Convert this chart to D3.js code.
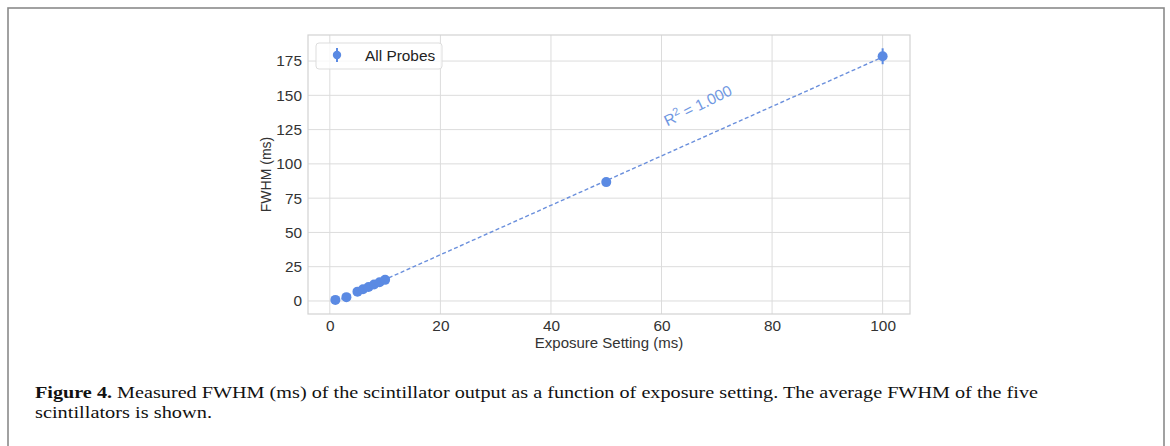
<!DOCTYPE html>
<html>
<head>
<meta charset="utf-8">
<script src="https://cdn.jsdelivr.net/npm/d3@7"></script>
<style>
  body { margin: 0; background: #fff; }
  svg { display: block; }
</style>
</head>
<body>
<svg id="chart" width="1170" height="446"></svg>
<script>
// exposure setting (ms) and averaged FWHM (ms) over the five probes
const exposure = [1, 3, 5, 6, 7, 8, 9, 10, 50, 100];
const fwhm = [0.8, 2.8, 6.8, 8.5, 10.2, 12.0, 13.6, 15.4, 86.7, 178.5];
const fwhmErr = [0.3, 0.3, 0.4, 0.4, 0.4, 0.5, 0.5, 0.5, 1.2, 5.8];
const xTicks = [0, 20, 40, 60, 80, 100];
const yTicks = [0, 25, 50, 75, 100, 125, 150, 175];
const xDomain = [-3.95, 104.95];
const yDomain = [-9.5, 194];
const legendLabel = "All Probes";
const fitLabel = "= 1.000";
const captionBold = "Figure 4.";
const captionLine1 = " Measured FWHM (ms) of the scintillator output as a function of exposure setting. The average FWHM of the five";
const captionLine2 = "scintillators is shown.";

const blue = "#5b8ae3";
const svg = d3.select("#chart");

// page frame
svg.append("rect")
    .attr("x", 8).attr("y", 8)
    .attr("width", 1156).attr("height", 460)
    .attr("fill", "none")
    .attr("stroke", "#8a8a8a")
    .attr("stroke-width", 1.6);

const plot = { left: 308, top: 35, right: 910, bottom: 314 };

let x = d3.scaleLinear().domain(xDomain).range([plot.left, plot.right]);
let y = d3.scaleLinear().domain(yDomain).range([plot.bottom, plot.top]);

let g = svg.append("g");

// grid
g.selectAll(".vgrid").data(xTicks).enter().append("line")
    .attr("x1", d => x(d)).attr("x2", d => x(d))
    .attr("y1", plot.top).attr("y2", plot.bottom)
    .attr("stroke", "#dcdcdc").attr("stroke-width", 1);
g.selectAll(".hgrid").data(yTicks).enter().append("line")
    .attr("y1", d => y(d)).attr("y2", d => y(d))
    .attr("x1", plot.left).attr("x2", plot.right)
    .attr("stroke", "#dcdcdc").attr("stroke-width", 1);

g.append("rect")
    .attr("x", plot.left).attr("y", plot.top)
    .attr("width", plot.right - plot.left).attr("height", plot.bottom - plot.top)
    .attr("fill", "none").attr("stroke", "#d2d2d2").attr("stroke-width", 1.2);

// axes (ticks hidden, labels only)
let xAxis = d3.axisBottom(x).tickValues(xTicks).tickSize(0).tickPadding(6);
let yAxis = d3.axisLeft(y).tickValues(yTicks).tickSize(0).tickPadding(6);

let gx = g.append("g").attr("transform", "translate(0," + plot.bottom + ")").call(xAxis);
let gy = g.append("g").attr("transform", "translate(" + plot.left + ",0)").call(yAxis);
[gx, gy].forEach(a => {
    a.select(".domain").remove();
    a.selectAll("text")
        .attr("font-family", "Liberation Sans, Arial, sans-serif")
        .attr("font-size", 15.4)
        .attr("fill", "#333");
});

g.append("text")
    .attr("x", (plot.left + plot.right) / 2).attr("y", 348)
    .attr("text-anchor", "middle")
    .attr("font-family", "Liberation Sans, Arial, sans-serif")
    .attr("font-size", 15)
    .attr("fill", "#333")
    .text("Exposure Setting (ms)");

g.append("text")
    .attr("transform", "translate(271," + ((plot.top + plot.bottom) / 2) + ") rotate(-90)")
    .attr("text-anchor", "middle")
    .attr("font-family", "Liberation Sans, Arial, sans-serif")
    .attr("font-size", 14)
    .attr("fill", "#333")
    .text("FWHM (ms)");

// least squares fit through the points
let mx = d3.mean(exposure), my = d3.mean(fwhm);
let sxy = d3.sum(exposure, (v, i) => (v - mx) * (fwhm[i] - my));
let sxx = d3.sum(exposure, v => (v - mx) * (v - mx));
let slope = sxy / sxx;
let icpt = my - slope * mx;
let xr = d3.extent(exposure);

g.append("line")
    .attr("x1", x(xr[0])).attr("y1", y(icpt + slope * xr[0]))
    .attr("x2", x(xr[1])).attr("y2", y(icpt + slope * xr[1]))
    .attr("stroke", "#6a8fdc")
    .attr("stroke-width", 1.4)
    .attr("stroke-dasharray", "4,2.5");

// error bars + points
let pts = exposure.map((v, i) => ({ x: v, y: fwhm[i], e: fwhmErr[i] }));
g.selectAll(".err").data(pts).enter().append("line")
    .attr("x1", d => x(d.x)).attr("x2", d => x(d.x))
    .attr("y1", d => y(d.y - d.e)).attr("y2", d => y(d.y + d.e))
    .attr("stroke", blue).attr("stroke-width", 2);
g.selectAll(".pt").data(pts).enter().append("circle")
    .attr("cx", d => x(d.x)).attr("cy", d => y(d.y))
    .attr("r", 5)
    .attr("fill", blue);

// R^2 annotation above the fit
let ax = 67, ay = 139;
let ang = -26;
let ann = g.append("text")
    .attr("transform", "translate(" + x(ax) + "," + y(ay) + ") rotate(" + ang + ")")
    .attr("text-anchor", "middle")
    .attr("font-family", "Liberation Sans, Arial, sans-serif")
    .attr("font-size", 15.4)
    .attr("fill", "#6f97e2");
ann.append("tspan").text("R");
ann.append("tspan").attr("dy", -6).attr("font-size", 11).text("2");
ann.append("tspan").attr("dy", 6).text(" " + fitLabel);

// legend
let lg = g.append("g").attr("transform", "translate(316,43)");
lg.append("rect")
    .attr("width", 126).attr("height", 26)
    .attr("rx", 3)
    .attr("fill", "#fff").attr("fill-opacity", 0.8)
    .attr("stroke", "#dddddd");
lg.append("line")
    .attr("x1", 21).attr("x2", 21).attr("y1", 5).attr("y2", 19)
    .attr("stroke", blue).attr("stroke-width", 2);
lg.append("circle").attr("cx", 21).attr("cy", 12).attr("r", 4.2).attr("fill", blue);
lg.append("text")
    .attr("x", 49).attr("y", 17.5)
    .attr("font-family", "Liberation Sans, Arial, sans-serif")
    .attr("font-size", 15.4)
    .attr("fill", "#222")
    .text(legendLabel);

// caption
let cap = svg.append("text")
    .attr("x", 35).attr("y", 398)
    .attr("font-family", "Liberation Serif, Times New Roman, serif")
    .attr("font-size", 17)
    .attr("fill", "#111")
    .attr("textLength", 1003)
    .attr("lengthAdjust", "spacingAndGlyphs");
cap.append("tspan").attr("font-weight", "bold").text(captionBold);
cap.append("tspan").text(captionLine1);

svg.append("text")
    .attr("x", 35).attr("y", 417.5)
    .attr("font-family", "Liberation Serif, Times New Roman, serif")
    .attr("font-size", 17)
    .attr("fill", "#111")
    .attr("textLength", 177)
    .attr("lengthAdjust", "spacingAndGlyphs")
    .text(captionLine2);
</script>
</body>
</html>
